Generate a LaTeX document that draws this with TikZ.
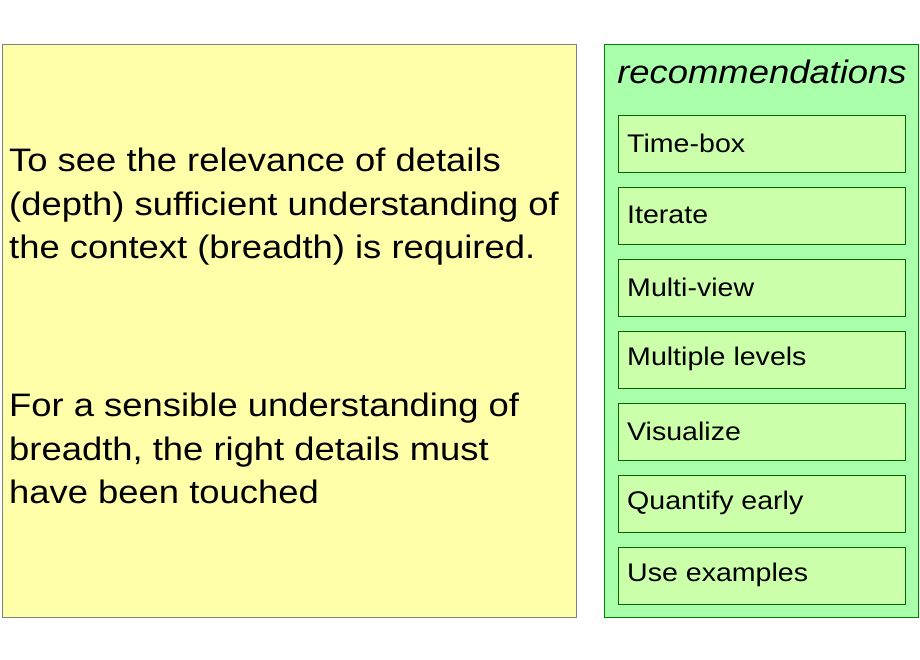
\documentclass[tikz,border=0pt]{standalone}
\usepackage{fontspec}
\setmainfont{Liberation Sans}[FakeStretch=1.12]
\begin{document}
\begin{tikzpicture}[x=1pt,y=-1pt,
  panel/.style={draw=#1,line width=0.8pt,anchor=north west,inner sep=0pt},
  rec/.style={draw=green!40!black,fill=rfill,line width=0.8pt,anchor=north west,minimum width=287pt,minimum height=57pt,inner sep=0pt},
  bigtext/.style={anchor=north west,align=left,inner sep=0pt,font=\fontsize{32.5}{43.5}\selectfont}]
\definecolor{yfill}{HTML}{FFFFAA}
\definecolor{gfill}{HTML}{AAFFAA}
\definecolor{rfill}{HTML}{CCFFAA}
\useasboundingbox (0,0) rectangle (920,660);
\node[panel=gray,fill=yfill,minimum width=574pt,minimum height=573pt] (left) at (2,44) {};
\node[panel=green!50!black,fill=gfill,minimum width=314pt,minimum height=573pt] (right) at (604,44) {};
\node[font=\fontsize{32.5}{36}\selectfont\itshape] (title) at (762,72) {recommendations};
\foreach \t [count=\i] in {Time-box,Iterate,Multi-view,Multiple levels,Visualize,Quantify early,Use examples}{
  \node[rec] (r\i) at (618,{115+72*(\i-1)}) {};
  \node[anchor=west,inner sep=0pt,font=\fontsize{25.5}{28}\selectfont] (t\i) at (627,{143+72*(\i-1)}) {\t};
}
\node[bigtext] (p1) at (9,148) {To see the relevance of details\\(depth) sufficient understanding of\\the context (breadth) is required.};
\node[bigtext] (p2) at (9,393) {For a sensible understanding of\\breadth, the right details must\\have been touched};
\end{tikzpicture}
\end{document}
